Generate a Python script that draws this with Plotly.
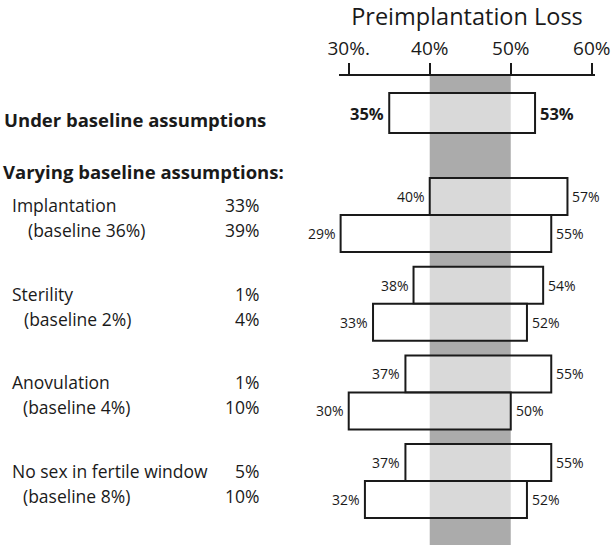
import plotly.graph_objects as go

# ---------------- data ----------------
title_text = "Preimplantation Loss"
tick_vals = [30, 40, 50, 60]
tick_text = ["30%.", "40%", "50%", "60%"]
band_range = [40, 50]

baseline_label = "Under baseline assumptions"
baseline_lo = 35
baseline_hi = 53

section_label = "Varying baseline assumptions:"
params = ["Implantation", "Sterility", "Anovulation", "No sex in fertile window"]
param_notes = ["(baseline 36%)", "(baseline 2%)", "(baseline 4%)", "(baseline 8%)"]
param_low_setting = ["33%", "1%", "1%", "5%"]
param_high_setting = ["39%", "4%", "10%", "10%"]

low_setting_lo = [40, 38, 37, 37]
low_setting_hi = [57, 54, 55, 55]
high_setting_lo = [29, 33, 30, 32]
high_setting_hi = [55, 52, 50, 52]

# ---------------- layout constants ----------------
W, H = 616, 545
ML, MR, MT, MB = 339, 21, 76, 0
PW = W - ML - MR
PH = H - MT - MB
FONT = "Open Sans"
INK = "#1a1a1a"

base_center = 37.0
base_h = 40
group_start = 120.5
group_gap = 88.7
bar_h = 37

def px_to_paper(px):
    return (px - ML) / PW

# positions computed from layout constants
ys, los, his, widths = [], [], [], []
ys.append(base_center); los.append(baseline_lo); his.append(baseline_hi); widths.append(base_h)
top_centers = []
for i in range(len(params)):
    yt = group_start + i * group_gap
    top_centers.append(yt)
    ys += [yt, yt + bar_h]
    los += [low_setting_lo[i], high_setting_lo[i]]
    his += [low_setting_hi[i], high_setting_hi[i]]
    widths += [bar_h, bar_h]

fig = go.Figure()

fig.add_trace(go.Bar(
    orientation="h",
    y=ys,
    x=[h - l for l, h in zip(los, his)],
    base=los,
    width=widths,
    marker=dict(color="rgba(255,255,255,0.55)", line=dict(color=INK, width=2)),
    hoverinfo="skip",
    showlegend=False,
))

annotations = []

# value labels next to bar ends (baseline bold)
for k, (y, lo, hi) in enumerate(zip(ys, los, his)):
    bold = (k == 0)
    size = 16.5 if bold else 14
    for v, anchor, shift in ((lo, "right", -3), (hi, "left", 3)):
        annotations.append(dict(
            text=f"<b>{v}%</b>" if bold else f"{v}%",
            xref="x", yref="y", x=v, y=y, xshift=shift,
            xanchor=anchor, yanchor="middle", showarrow=False,
            font=dict(family=FONT, size=size, color=INK),
        ))

def add_text(txt, px, y, anchor="left", size=17.5, bold=False):
    annotations.append(dict(
        text=f"<b>{txt}</b>" if bold else txt,
        xref="paper", yref="y", x=px_to_paper(px), y=y,
        xanchor=anchor, yanchor="middle", showarrow=False,
        font=dict(family=FONT, size=size, color=INK),
    ))

add_text(baseline_label, 2, 119 - MT, size=18.5, bold=True)
add_text(section_label, 1, 171 - MT, size=18.5, bold=True)
note_x = [26, 22, 21, 21]
for i, name in enumerate(params):
    yt = top_centers[i]
    add_text(name, 10, yt + 8.5)
    add_text(param_notes[i], note_x[i], yt + 33.5)
    add_text(param_low_setting[i], 261, yt + 8.5, anchor="right")
    add_text(param_high_setting[i], 261, yt + 33.5, anchor="right")

fig.update_layout(
    width=W, height=H,
    margin=dict(l=ML, r=MR, t=MT, b=MB, pad=0),
    paper_bgcolor="white", plot_bgcolor="white",
    barmode="overlay",
    showlegend=False,
    annotations=annotations,
    shapes=[dict(type="rect", xref="x", yref="paper",
                 x0=band_range[0], x1=band_range[1], y0=0, y1=1,
                 fillcolor="#ababab", line=dict(width=0), layer="below")],
    xaxis=dict(
        side="top", range=[28.8, 60.4],
        tickvals=tick_vals, ticktext=tick_text,
        tickfont=dict(family=FONT, size=19, color=INK),
        ticks="outside", ticklen=11, tickwidth=2, tickcolor=INK,
        showline=True, linecolor=INK, linewidth=2,
        showgrid=False, zeroline=False, fixedrange=True,
        automargin=False,
        title=dict(text=title_text, font=dict(family=FONT, size=23.5, color=INK), standoff=8),
    ),
    yaxis=dict(range=[PH, 0], visible=False, fixedrange=True, automargin=False),
)

fig.write_html(
    "out.html",
    config={"displayModeBar": False},
    post_script="document.body.style.margin='0';document.body.style.overflow='hidden';",
)
